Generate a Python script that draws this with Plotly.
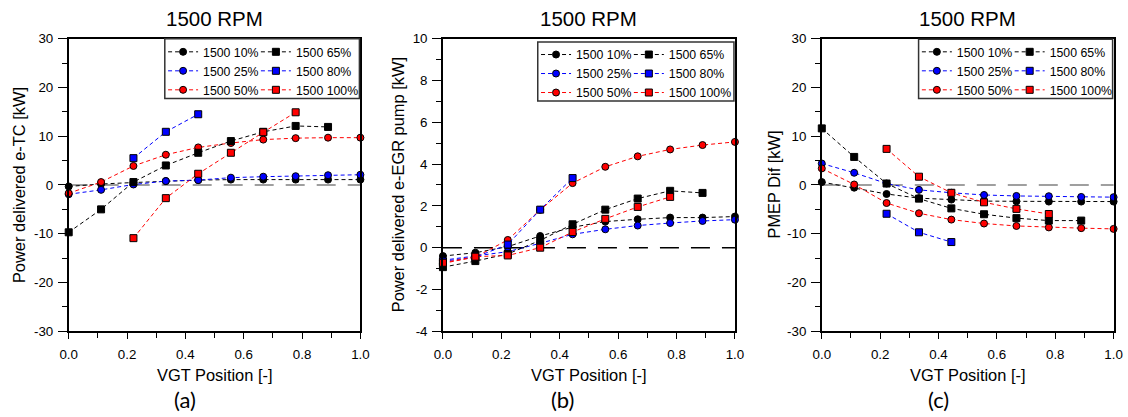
import plotly.graph_objects as go

# ---------------- data ----------------
vgt = [0.0, 0.111, 0.222, 0.333, 0.444, 0.556, 0.667, 0.778, 0.889, 1.0]
series_names = ["1500 10%", "1500 25%", "1500 50%", "1500 65%", "1500 80%", "1500 100%"]

# (a) Power delivered e-TC [kW]
etc_10 = [-0.3, 0.2, 0.5, 0.8, 1.0, 1.1, 1.1, 1.1, 1.1, 1.1]
etc_25 = [-1.9, -1.0, 0.1, 0.8, 1.0, 1.5, 1.7, 1.8, 2.0, 2.1]
etc_50 = [-1.7, 0.6, 3.9, 6.2, 7.7, 8.6, 9.3, 9.6, 9.7, 9.7]
etc_65 = [-9.7, -5.0, 0.6, 4.0, 6.6, 9.0, 10.9, 12.1, 11.9, None]
etc_80 = [None, None, 5.5, 10.9, 14.5, None, None, None, None, None]
etc_100 = [None, None, -10.9, -2.7, 2.3, 6.6, 10.8, 14.9, None, None]

# (b) Power delivered e-EGR pump [kW]
egr_10 = [-0.4, -0.24, 0.05, 0.56, 0.98, 1.25, 1.36, 1.44, 1.44, 1.49]
egr_25 = [-0.6, -0.4, -0.19, 0.21, 0.64, 0.88, 1.06, 1.18, 1.28, 1.34]
egr_50 = [-0.75, -0.45, 0.37, 1.81, 3.09, 3.87, 4.37, 4.7, 4.91, 5.06]
egr_65 = [-0.93, -0.64, -0.3, 0.35, 1.12, 1.82, 2.35, 2.72, 2.62, None]
egr_80 = [-0.65, -0.45, 0.15, 1.82, 3.33, None, None, None, None, None]
egr_100 = [-0.72, -0.43, -0.37, 0.0, 0.75, 1.38, 1.95, 2.43, None, None]

# (c) PMEP Dif [kW]
pmep_10 = [0.6, -0.55, -1.85, -2.7, -3.0, -3.3, -3.35, -3.4, -3.4, -3.4]
pmep_25 = [4.4, 2.5, 0.3, -1.0, -1.6, -2.05, -2.25, -2.3, -2.45, -2.5]
pmep_50 = [3.4, 0.1, -3.7, -5.8, -7.1, -7.9, -8.4, -8.7, -8.85, -9.0]
pmep_65 = [11.6, 5.75, 0.3, -2.8, -4.8, -6.0, -6.8, -7.3, -7.3, None]
pmep_80 = [None, None, -5.9, -9.7, -11.7, None, None, None, None, None]
pmep_100 = [None, None, 7.4, 1.7, -1.6, -3.55, -4.9, -5.95, None, None]

x_tickvals = [0.0, 0.2, 0.4, 0.6, 0.8, 1.0]
x_ticktext = ["0.0", "0.2", "0.4", "0.6", "0.8", "1.0"]
y_tickvals_kw30 = [-30, -20, -10, 0, 10, 20, 30]
y_ticktext_kw30 = ["-30", "-20", "-10", "0", "10", "20", "30"]
y_tickvals_egr = [-4, -2, 0, 2, 4, 6, 8, 10]
y_ticktext_egr = ["-4", "-2", "0", "2", "4", "6", "8", "10"]

panel_titles = ["1500 RPM", "1500 RPM", "1500 RPM"]
y_titles = ["Power delivered e-TC [kW]", "Power delivered e-EGR pump [kW]", "PMEP Dif [kW]"]
x_title = "VGT Position [-]"
panel_labels = ["(a)", "(b)", "(c)"]

panels = [
    [etc_10, etc_25, etc_50, etc_65, etc_80, etc_100],
    [egr_10, egr_25, egr_50, egr_65, egr_80, egr_100],
    [pmep_10, pmep_25, pmep_50, pmep_65, pmep_80, pmep_100],
]
y_ticks = [
    (y_tickvals_kw30, y_ticktext_kw30),
    (y_tickvals_egr, y_ticktext_egr),
    (y_tickvals_kw30, y_ticktext_kw30),
]

# ---------------- styles / layout ----------------
W, H = 1128, 417
# observed page mapping: shown = S * (8 + figure_px)
OFF = 8
SX, SY = 1128 / 1144, 417 / 433
FS = 1 / 0.975  # font compensation

colors = ["#000000", "#0000ff", "#ff0000", "#000000", "#0000ff", "#ff0000"]
symbols = ["circle", "circle", "circle", "square", "square", "square"]
y_ranges = [(-30, 30), (-4, 10), (-30, 30)]
y_minor = [5, 1, 5]
zero_colors = ["#808080", "#000000", "#808080"]

# target positions in reference pixels
px_x = [(67.7, 360.0), (442.7, 735.3), (822.3, 1114.7)]
px_top, px_bot = 39.3, 331.7
ytitle_px = [18, 398, 774]
label_px = [184, 562, 939]
legend_row1_px = [51.0, 53.7, 51.0]
box_left_px = [164.0, 537.7, 919.3]
box_top_px = [39.3, 42.7, 40.0]


def px2x(p):
    return (p / SX - OFF) / W


def px2y(p):
    return 1 - (p / SY - OFF) / H


FONT = "Liberation Sans, Arial, sans-serif"

fig = go.Figure()
annotations = []
shapes = []
layout_axes = {}
legends = {}

for i, data in enumerate(panels):
    sfx = "" if i == 0 else str(i + 1)
    xa, ya = "x" + sfx, "y" + sfx
    l, r = px_x[i]
    bl = box_left_px[i]
    leg_left = "legend" if i == 0 else "legend%d" % (2 * i + 1)
    leg_right = "legend%d" % (2 * i + 2)
    for k, vals in enumerate(data):
        fig.add_trace(go.Scatter(
            x=vgt, y=vals, xaxis=xa, yaxis=ya,
            name=series_names[k],
            mode="lines+markers",
            line=dict(color=colors[k], width=1, dash="4px,3px"),
            marker=dict(symbol=symbols[k], size=7, color=colors[k],
                        line=dict(color="#000000", width=1)),
            cliponaxis=False,
            legend=leg_left if k < 3 else leg_right,
        ))
    row1 = legend_row1_px[i]
    for name, mcx in ((leg_left, 18), (leg_right, 111)):
        legends[name] = dict(
            x=px2x(bl + mcx - 20 * SX), y=px2y(row1 - 13), xanchor="left", yanchor="top",
            bgcolor="rgba(0,0,0,0)", borderwidth=0,
            font=dict(family=FONT, size=12 * FS, color="#000"),
            tracegroupgap=0, itemwidth=30,
        )
    bt = box_top_px[i]
    shapes.append(dict(type="rect", xref="paper", yref="paper",
                       x0=px2x(bl), x1=px2x(r - 1), y0=px2y(row1 + 48), y1=px2y(bt),
                       line=dict(color="#333333", width=1.5), layer="above"))
    shapes.append(dict(type="line", xref=xa + " domain", yref=ya,
                       x0=0, x1=1, y0=0, y1=0,
                       line=dict(color=zero_colors[i], width=1.5, dash="19px,12px"),
                       layer="below"))
    tv, tt = y_ticks[i]
    layout_axes["xaxis" + sfx] = dict(
        domain=[px2x(l), px2x(r)], anchor=ya, range=[0, 1],
        tickmode="array", tickvals=x_tickvals, ticktext=x_ticktext,
        ticks="outside", ticklen=6, tickwidth=1, tickcolor="#000",
        minor=dict(dtick=0.1, tick0=0, ticks="outside", ticklen=5, tickcolor="#000"),
        showline=True, linecolor="#000", linewidth=1.5, mirror=True,
        showgrid=False, zeroline=False, ticklabelstandoff=4,
        tickfont=dict(family=FONT, size=13 * FS, color="#000"),
    )
    layout_axes["yaxis" + sfx] = dict(
        domain=[px2y(px_bot), px2y(px_top)], anchor=xa, range=list(y_ranges[i]),
        tickmode="array", tickvals=tv, ticktext=tt,
        ticks="outside", ticklen=9, tickwidth=1, tickcolor="#000",
        minor=dict(dtick=y_minor[i], tick0=0, ticks="outside", ticklen=5, tickcolor="#000"),
        showline=True, linecolor="#000", linewidth=1.5, mirror=True,
        showgrid=False, zeroline=False, ticklabelstandoff=2,
        tickfont=dict(family=FONT, size=13 * FS, color="#000"),
    )
    cx = (l + r) / 2
    annotations += [
        dict(text=panel_titles[i], x=px2x(cx), y=px2y(19), xref="paper", yref="paper",
             showarrow=False, xanchor="center", yanchor="middle",
             font=dict(family=FONT, size=20 * FS, color="#000")),
        dict(text=x_title, x=px2x(cx), y=px2y(375), xref="paper", yref="paper",
             showarrow=False, xanchor="center", yanchor="middle",
             font=dict(family=FONT, size=16 * FS, color="#000")),
        dict(text=y_titles[i], x=px2x(ytitle_px[i]), y=px2y((px_top + px_bot) / 2),
             xref="paper", yref="paper", textangle=-90,
             showarrow=False, xanchor="center", yanchor="middle",
             font=dict(family=FONT, size=16 * FS, color="#000")),
        dict(text=panel_labels[i], x=px2x(label_px[i]), y=px2y(400), xref="paper", yref="paper",
             showarrow=False, xanchor="center", yanchor="middle",
             font=dict(family="Lato, Carlito, sans-serif", size=22, color="#000")),
    ]

fig.update_layout(
    width=W, height=H,
    margin=dict(l=0, r=0, t=0, b=0),
    paper_bgcolor="white", plot_bgcolor="white",
    font=dict(family=FONT, color="#000"),
    annotations=annotations, shapes=shapes,
    showlegend=True,
    **layout_axes, **legends,
)

fig.write_html("out.html")
